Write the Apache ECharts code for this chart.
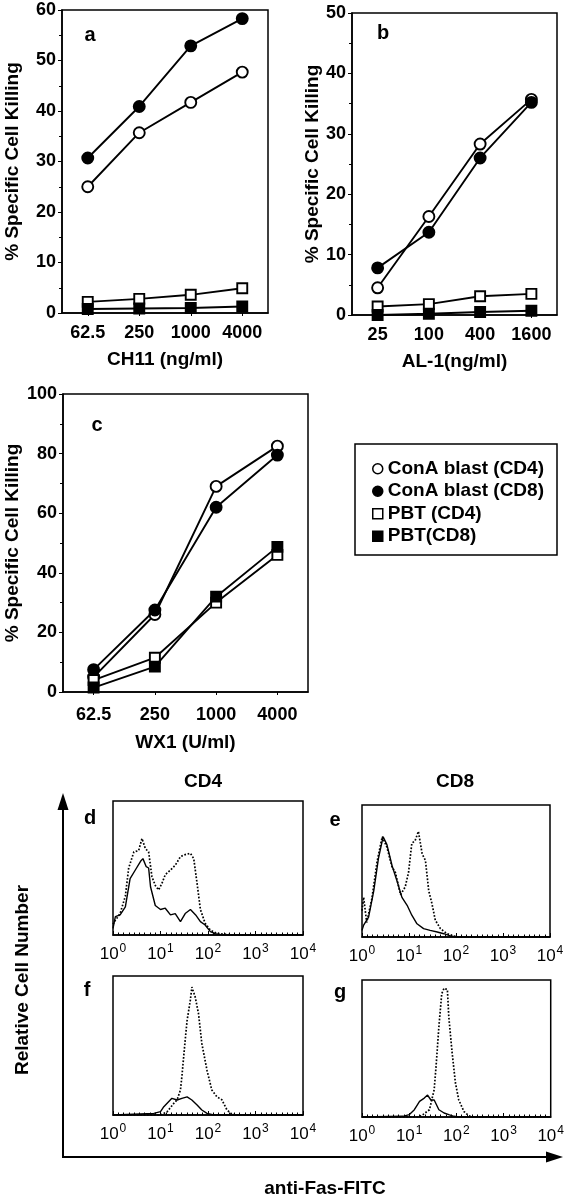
<!DOCTYPE html>
<html>
<head>
<meta charset="utf-8">
<script src="https://cdn.jsdelivr.net/npm/echarts@6/dist/echarts.min.js"></script>
<style>
html,body{margin:0;padding:0;background:#fff;}
#chart{width:567px;height:1199px;}
</style>
</head>
<body>
<div id="chart"></div>
<script>
// ---------- DATA ----------
const seriesNames = ['ConA blast (CD4)', 'ConA blast (CD8)', 'PBT (CD4)', 'PBT(CD8)'];

const catA = ['62.5', '250', '1000', '4000'];
const aConaCD4 = [25, 35.7, 41.7, 47.7];
const aConaCD8 = [30.7, 40.9, 52.9, 58.3];
const aPbtCD4 = [2.2, 2.8, 3.6, 4.9];
const aPbtCD8 = [0.8, 0.9, 1.0, 1.3];

const catB = ['25', '100', '400', '1600'];
const bConaCD4 = [4.5, 16.3, 28.3, 35.7];
const bConaCD8 = [7.8, 13.7, 26, 35.2];
const bPbtCD4 = [1.4, 1.8, 3.1, 3.5];
const bPbtCD8 = [0, 0.2, 0.5, 0.7];

const catC = ['62.5', '250', '1000', '4000'];
const cConaCD4 = [5, 26, 69, 82.5];
const cConaCD8 = [7.5, 27.5, 62, 79.5];
const cPbtCD4 = [4, 11.5, 30, 46];
const cPbtCD8 = [1.5, 8.5, 32, 48.7];

const histTicks = [0, 1, 2, 3, 4]; // log10 decades

// histogram d (CD4, ConA)
const dSolidX = [0, 0.05, 0.15, 0.26, 0.36, 0.47, 0.58, 0.63, 0.7, 0.75, 0.79, 0.89, 1.0, 1.1, 1.21, 1.31, 1.42, 1.52, 1.63, 1.74, 1.84, 1.94, 2.05, 2.15, 2.3, 4];
const dSolidY = [5, 13.7, 15, 21, 42, 48.5, 55, 57, 51, 50, 36, 22, 19, 20, 15, 16, 10, 16, 19, 15, 10, 7.5, 2.5, 1, 0, 0];
const dDotX = [0, 0.05, 0.15, 0.26, 0.33, 0.44, 0.54, 0.61, 0.68, 0.75, 0.82, 0.89, 0.96, 1.03, 1.1, 1.21, 1.31, 1.42, 1.52, 1.63, 1.7, 1.77, 1.84, 1.94, 2.05, 2.19, 2.33, 2.5, 4];
const dDotY = [8, 11, 16, 29, 50, 62, 63, 72, 64.6, 62, 43.5, 37, 33.6, 38.5, 45, 48.5, 52, 58.5, 60, 61, 57, 38.5, 19, 8.7, 3.7, 1.2, 0.7, 0, 0];

// histogram e (CD8, ConA)
const eSolidX = [0, 0.035, 0.14, 0.25, 0.35, 0.45, 0.53, 0.64, 0.74, 0.85, 0.96, 1.06, 1.17, 1.31, 1.45, 1.6, 1.74, 1.88, 2.0, 4];
const eSolidY = [5, 9, 15, 35, 59.5, 76, 70, 54, 43, 30, 24, 16.5, 10, 6.3, 5, 3.8, 2.5, 0.8, 0, 0];
const eDotX = [0, 0.035, 0.1, 0.21, 0.32, 0.43, 0.53, 0.64, 0.71, 0.82, 0.92, 0.99, 1.06, 1.13, 1.2, 1.28, 1.35, 1.42, 1.49, 1.56, 1.67, 1.81, 1.95, 2.05, 4];
const eDotY = [20, 30, 11, 29, 57, 76, 68, 53, 49, 32, 38, 49, 71, 73, 80, 63, 58, 35, 25, 12.7, 6.3, 2.5, 0.8, 0, 0];

// histogram f (CD4, PBT)
const fSolidX = [0, 0.86, 1.0, 1.07, 1.17, 1.24, 1.35, 1.45, 1.56, 1.66, 1.77, 1.87, 1.98, 2.12, 4];
const fSolidY = [0, 1.2, 2.4, 6, 9.6, 12, 10.8, 12, 13, 10.8, 7.2, 3.6, 1.2, 0, 0];
const fDotX = [0, 1.0, 1.14, 1.28, 1.35, 1.42, 1.45, 1.52, 1.56, 1.63, 1.66, 1.73, 1.8, 1.87, 1.98, 2.08, 2.19, 2.29, 2.4, 2.5, 2.6, 4];
const fDotY = [0, 0, 2.4, 8.4, 11, 18, 27.6, 54, 68, 83, 92, 85, 73, 51.5, 32, 18, 13, 11, 3.6, 0.7, 0, 0];

// histogram g (CD8, PBT)
const gSolidX = [0, 0.87, 1.0, 1.11, 1.22, 1.32, 1.39, 1.46, 1.53, 1.63, 1.74, 1.84, 1.95, 2.05, 4];
const gSolidY = [0, 0.5, 1.7, 5.3, 11.4, 13.8, 16, 12.4, 12.4, 5.3, 2.9, 1.7, 0.5, 0, 0];
const gDotX = [0, 1.2, 1.29, 1.43, 1.53, 1.57, 1.63, 1.69, 1.74, 1.81, 1.84, 1.91, 1.98, 2.05, 2.16, 2.26, 2.35, 4];
const gDotY = [0, 0, 1.7, 5.3, 20, 37, 66, 90, 94, 93, 73, 47, 25, 12.6, 4, 1, 0, 0];

// ---------- CHART ----------
const FONT = 'Liberation Sans, Arial, sans-serif';
const BLACK = '#000';

function zip(xs, ys) { return xs.map((x, i) => [x, ys[i]]); }

const grids = [
  {left: 62, top: 10, width: 206, height: 303},   // a
  {left: 352, top: 13, width: 205, height: 302},  // b
  {left: 63, top: 394, width: 245, height: 298},  // c
  {left: 113, top: 801, width: 190, height: 134}, // d
  {left: 362, top: 805, width: 188, height: 132}, // e
  {left: 113, top: 976, width: 190, height: 139}, // f
  {left: 362, top: 980, width: 191, height: 137}  // g
].map(g => Object.assign({show: true, borderColor: BLACK, borderWidth: 1.5, backgroundColor: 'transparent'}, g));

function catAxis(idx, cats, name, nameGap, margin) {
  return {
    type: 'category', gridIndex: idx, data: cats, boundaryGap: true,
    name: name, nameLocation: 'middle', nameGap: nameGap,
    nameTextStyle: {fontFamily: FONT, fontSize: 19, fontWeight: 'bold', color: BLACK},
    axisLine: {lineStyle: {color: BLACK, width: 1.5}},
    axisTick: {show: true, alignWithLabel: true, length: 3, lineStyle: {color: BLACK}},
    axisLabel: {fontFamily: FONT, fontSize: 18, fontWeight: 'bold', color: BLACK, margin: margin,
                interval: 0, hideOverlap: false},
    splitLine: {show: false}
  };
}
function valAxis(idx, max, interval, nameGap) {
  return {
    type: 'value', gridIndex: idx, min: 0, max: max, interval: interval,
    name: '% Specific Cell Killing', nameLocation: 'middle', nameGap: nameGap,
    nameTextStyle: {fontFamily: FONT, fontSize: 19, fontWeight: 'bold', color: BLACK},
    axisLine: {show: true, lineStyle: {color: BLACK, width: 1.5}},
    axisTick: {show: true, length: 4, lineStyle: {color: BLACK}},
    minorTick: {show: true, splitNumber: 2, length: 3, lineStyle: {color: BLACK}},
    axisLabel: {fontFamily: FONT, fontSize: 18, fontWeight: 'bold', color: BLACK, margin: 6},
    splitLine: {show: false}
  };
}
function histX(idx) {
  return {
    type: 'value', gridIndex: idx, min: histTicks[0], max: histTicks[histTicks.length - 1], interval: 1,
    axisLine: {lineStyle: {color: BLACK, width: 1.5}},
    axisTick: {show: true, inside: true, length: 4, lineStyle: {color: BLACK}},
    minorTick: {show: true, splitNumber: 9, length: 2.5, lineStyle: {color: BLACK}},
    axisLabel: {
      color: BLACK, margin: 8, hideOverlap: false,
      formatter: v => '{b|10}{s|' + v + '}',
      rich: {
        b: {fontFamily: FONT, fontSize: 17, color: BLACK, lineHeight: 20, verticalAlign: 'bottom'},
        s: {fontFamily: FONT, fontSize: 12, color: BLACK, lineHeight: 20, verticalAlign: 'top', padding: [0, 0, 6, 1]}
      }
    },
    splitLine: {show: false}
  };
}
function histY(idx) {
  return {type: 'value', gridIndex: idx, min: 0, max: 100, show: false, splitLine: {show: false}};
}

const markerDefs = [
  {symbol: 'circle', fill: '#fff'},
  {symbol: 'circle', fill: BLACK},
  {symbol: 'rect', fill: '#fff'},
  {symbol: 'rect', fill: BLACK}
];

function lineSeries(idx, arrays) {
  return arrays.map((vals, k) => ({
    type: 'line', name: seriesNames[k], xAxisIndex: idx, yAxisIndex: idx,
    data: vals, symbol: markerDefs[k].symbol, symbolSize: k < 2 ? 11 : 10,
    lineStyle: {color: BLACK, width: 1.9},
    itemStyle: {color: markerDefs[k].fill, borderColor: BLACK, borderWidth: 1.9},
    z: k % 2 === 0 ? 3 : 4,
    silent: true, animation: false
  }));
}
function histSeries(idx, sx, sy, dx, dy) {
  return [
    {type: 'line', xAxisIndex: idx, yAxisIndex: idx, data: zip(dx, dy), symbol: 'none',
     lineStyle: {color: BLACK, width: 1.7, type: 'dotted'}, silent: true, animation: false},
    {type: 'line', xAxisIndex: idx, yAxisIndex: idx, data: zip(sx, sy), symbol: 'none',
     lineStyle: {color: BLACK, width: 1.4}, silent: true, animation: false}
  ];
}

const textStyleBold = (s, size) => ({text: s, font: 'bold ' + size + 'px ' + FONT, fill: BLACK});
const centered = (s, size) => Object.assign(textStyleBold(s, size), {textAlign: 'center', textVerticalAlign: 'middle'});

const option = {
  backgroundColor: '#fff',
  animation: false,
  grid: grids,
  xAxis: [
    catAxis(0, catA, 'CH11 (ng/ml)', 37, 11),
    catAxis(1, catB, 'AL-1(ng/ml)', 37, 11),
    catAxis(2, catC, 'WX1 (U/ml)', 41, 14),
    histX(3), histX(4), histX(5), histX(6)
  ],
  yAxis: [
    valAxis(0, 60, 10, 40),
    valAxis(1, 50, 10, 30),
    valAxis(2, 100, 20, 41),
    histY(3), histY(4), histY(5), histY(6)
  ],
  legend: {
    show: true, orient: 'vertical', left: 367, top: 454, itemGap: 3,
    itemWidth: 10, itemHeight: 10, selectedMode: false,
    textStyle: {fontFamily: FONT, fontSize: 19, fontWeight: 'bold', color: BLACK, lineHeight: 19.5},
    data: seriesNames.map((n, k) => ({
      name: n, icon: markerDefs[k].symbol,
      itemStyle: {color: markerDefs[k].fill, borderColor: BLACK, borderWidth: 1.5}
    }))
  },
  series: [].concat(
    lineSeries(0, [aConaCD4, aConaCD8, aPbtCD4, aPbtCD8]),
    lineSeries(1, [bConaCD4, bConaCD8, bPbtCD4, bPbtCD8]),
    lineSeries(2, [cConaCD4, cConaCD8, cPbtCD4, cPbtCD8]),
    histSeries(3, dSolidX, dSolidY, dDotX, dDotY),
    histSeries(4, eSolidX, eSolidY, eDotX, eDotY),
    histSeries(5, fSolidX, fSolidY, fDotX, fDotY),
    histSeries(6, gSolidX, gSolidY, gDotX, gDotY)
  ),
  graphic: [
    // legend frame
    {type: 'rect', shape: {x: 355, y: 444, width: 202, height: 111}, style: {fill: 'none', stroke: BLACK, lineWidth: 1.5}, silent: true},
    // panel letters
    {type: 'text', x: 90, y: 35, style: centered('a', 20)},
    {type: 'text', x: 383, y: 33, style: centered('b', 20)},
    {type: 'text', x: 97, y: 425, style: centered('c', 20)},
    {type: 'text', x: 90, y: 818, style: centered('d', 20)},
    {type: 'text', x: 335, y: 820, style: centered('e', 20)},
    {type: 'text', x: 87, y: 990, style: centered('f', 20)},
    {type: 'text', x: 340, y: 992, style: centered('g', 20)},
    // column headers
    {type: 'text', x: 203, y: 782, style: centered('CD4', 19)},
    {type: 'text', x: 455, y: 782, style: centered('CD8', 19)},
    // big axes
    {type: 'polyline', shape: {points: [[63, 808], [63, 1157], [550, 1157]]}, style: {fill: 'none', stroke: BLACK, lineWidth: 2}, silent: true},
    {type: 'polygon', shape: {points: [[63, 793], [57.5, 810], [68.5, 810]]}, style: {fill: BLACK}, silent: true},
    {type: 'polygon', shape: {points: [[563, 1157], [546, 1151.5], [546, 1162.5]]}, style: {fill: BLACK}, silent: true},
    {type: 'text', x: 23, y: 980, rotation: Math.PI / 2, style: centered('Relative Cell Number', 19)},
    {type: 'text', x: 325, y: 1189, style: centered('anti-Fas-FITC', 19)}
  ]
};

const chart = echarts.init(document.getElementById('chart'), null, {renderer: 'canvas'});
chart.setOption(option);
</script>
</body>
</html>
